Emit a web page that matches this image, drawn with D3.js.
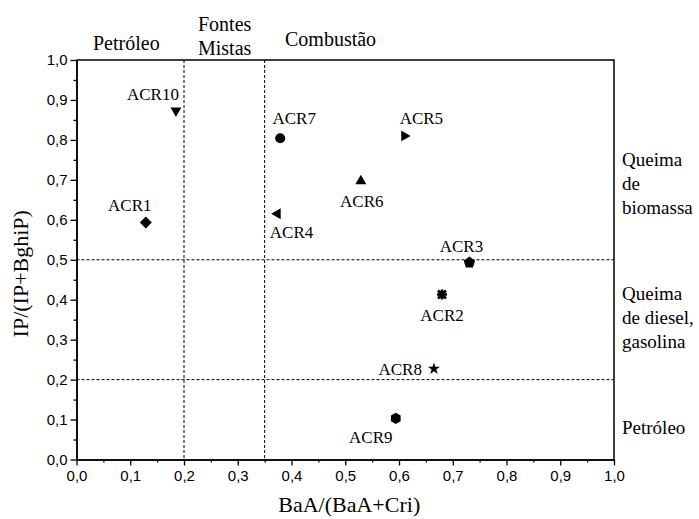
<!DOCTYPE html>
<html>
<head>
<meta charset="utf-8">
<script src="https://cdn.jsdelivr.net/npm/d3@7"></script>
<style>
  html, body { margin: 0; padding: 0; background: #fff; }
  svg { display: block; }
</style>
</head>
<body>
<svg id="chart" width="699" height="519"></svg>
<script>
// Diagnostic ratios per sample
const samples = ["ACR1", "ACR2", "ACR3", "ACR4", "ACR5", "ACR6", "ACR7", "ACR8", "ACR9", "ACR10"];
const baaRatio = [0.129, 0.680, 0.731, 0.374, 0.610, 0.529, 0.379, 0.665, 0.594, 0.185]; // BaA/(BaA+Cri)
const ipRatio  = [0.593, 0.413, 0.493, 0.615, 0.810, 0.697, 0.804, 0.227, 0.103, 0.873]; // IP/(IP+BghiP)
const markerShapes = ["diamond", "asterisk", "pentagon", "triangleLeft", "triangleRight",
                      "triangleUp", "circle", "star", "hexagon", "triangleDown"];

// Source-boundary thresholds
const baaLimits = [0.2, 0.35];
const ipLimits = [0.2, 0.5];

// Tick values
const majorTicks = [0, 0.1, 0.2, 0.3, 0.4, 0.5, 0.6, 0.7, 0.8, 0.9, 1.0];
const minorTicks = [0.05, 0.15, 0.25, 0.35, 0.45, 0.55, 0.65, 0.75, 0.85, 0.95];

// Region labels
const topRegions = [
  { lines: ["Petróleo"], x: 93, y: 50 },
  { lines: ["Fontes", "Mistas"], x: 198, y: 31 },
  { lines: ["Combustão"], x: 285, y: 46 }
];
const sideRegions = [
  { lines: ["Queima", "de", "biomassa"], y: 166 },
  { lines: ["Queima", "de diesel,", "gasolina"], y: 300 },
  { lines: ["Petróleo"], y: 434 }
];

// Label placement relative to each marker: [dx, dy, anchor]
const labelOffsets = [
  [-16, -12, "middle"], [0, 26, "middle"], [-8, -11, "middle"], [14, 24, "middle"],
  [17, -12, "middle"], [1, 26, "middle"], [14, -14, "middle"], [-12, 6, "end"],
  [-25, 25, "middle"], [3, -11, "end"]
];

const SERIF = "Liberation Serif, Times New Roman, Times, serif";
const SANS = "Liberation Sans, Arial, sans-serif";

const margin = { left: 76.5, right: 85, top: 60, bottom: 59.5 };
const W = 699, H = 519;
const svg = d3.select("#chart");
svg.append("rect").attr("width", W).attr("height", H).attr("fill", "#fff");

const x = d3.scaleLinear().domain([0, 1]).range([margin.left, W - margin.right]);
const y = d3.scaleLinear().domain([0, 1]).range([H - margin.bottom, margin.top]);
const fmt = v => d3.format(".1f")(v).replace(".", ",");

// Dashed threshold lines
const g = svg.append("g");
g.selectAll("line.vlim").data(baaLimits).join("line")
  .attr("x1", d => x(d)).attr("x2", d => x(d))
  .attr("y1", y(1)).attr("y2", y(0))
  .attr("stroke", "#000").attr("stroke-width", 1).attr("stroke-dasharray", "3,2");
g.selectAll("line.hlim").data(ipLimits).join("line")
  .attr("x1", x(0)).attr("x2", x(1))
  .attr("y1", d => y(d)).attr("y2", d => y(d))
  .attr("stroke", "#000").attr("stroke-width", 1).attr("stroke-dasharray", "3,2");

// Axes: major ticks with labels, minor ticks without
function styleAxis(sel) {
  sel.attr("font-family", SANS).attr("font-size", 15);
  sel.select(".domain").attr("stroke", "#000").attr("stroke-width", 1.5);
  sel.selectAll(".tick line").attr("stroke", "#000").attr("stroke-width", 1.3);
  sel.selectAll(".tick text").attr("fill", "#000");
}
svg.append("g").attr("transform", `translate(0,${y(0)})`)
  .call(d3.axisBottom(x).tickValues(majorTicks).tickSize(6).tickSizeOuter(0).tickPadding(5).tickFormat(fmt))
  .call(styleAxis);
svg.append("g").attr("transform", `translate(0,${y(0)})`)
  .call(d3.axisBottom(x).tickValues(minorTicks).tickSize(3).tickSizeOuter(0).tickFormat(""))
  .call(styleAxis);
svg.append("g").attr("transform", `translate(${x(0)},0)`)
  .call(d3.axisLeft(y).tickValues(majorTicks).tickSize(6).tickSizeOuter(0).tickPadding(3).tickFormat(fmt))
  .call(styleAxis);
svg.append("g").attr("transform", `translate(${x(0)},0)`)
  .call(d3.axisLeft(y).tickValues(minorTicks).tickSize(3).tickSizeOuter(0).tickFormat(""))
  .call(styleAxis);

// Top and right frame
svg.append("path")
  .attr("d", `M${x(0)},${y(1)}H${x(1)}V${y(0)}`)
  .attr("fill", "none").attr("stroke", "#000").attr("stroke-width", 1.5);

// Marker shapes
function polygon(n, r, rot) {
  const pts = d3.range(n).map(i => {
    const a = rot + i * 2 * Math.PI / n;
    return [r * Math.sin(a), -r * Math.cos(a)];
  });
  return "M" + pts.map(p => p.join(",")).join("L") + "Z";
}
function markerPath(shape) {
  switch (shape) {
    case "diamond": return polygon(4, 6, 0);
    case "circle": return d3.symbol(d3.symbolCircle, 80)();
    case "triangleUp": return polygon(3, 6.3, 0);
    case "triangleDown": return polygon(3, 6.3, Math.PI);
    case "triangleLeft": return polygon(3, 6.3, -Math.PI / 2);
    case "triangleRight": return polygon(3, 6.3, Math.PI / 2);
    case "pentagon": return polygon(5, 6, 0);
    case "hexagon": return polygon(6, 5.6, 0);
    case "star": return d3.symbol(d3.symbolStar, 45)();
    default: return null;
  }
}

const pts = svg.append("g").selectAll("g").data(samples).join("g")
  .attr("transform", (d, i) => `translate(${x(baaRatio[i])},${y(ipRatio[i])})`);
pts.each(function (d, i) {
  const sel = d3.select(this);
  const shape = markerShapes[i];
  if (shape === "asterisk") {
    sel.append("path")
      .attr("d", "M-4,-4L4,4M-4,4L4,-4M0,-5V5M-5,0H5")
      .attr("stroke", "#000").attr("stroke-width", 2.6).attr("fill", "none");
  } else {
    sel.append("path").attr("d", markerPath(shape)).attr("fill", "#000");
  }
});

// Sample labels
svg.append("g").attr("font-family", SERIF).attr("font-size", 17)
  .selectAll("text").data(samples).join("text")
  .attr("x", (d, i) => x(baaRatio[i]) + labelOffsets[i][0])
  .attr("y", (d, i) => y(ipRatio[i]) + labelOffsets[i][1])
  .attr("text-anchor", (d, i) => labelOffsets[i][2])
  .attr("fill", "#000")
  .text(d => d);

// Region labels above the plot
topRegions.forEach(r => {
  const t = svg.append("text").attr("font-family", SERIF).attr("font-size", 20)
    .attr("fill", "#000").attr("x", r.x).attr("y", r.y);
  r.lines.forEach((l, k) => t.append("tspan").attr("x", r.x).attr("dy", k === 0 ? 0 : 24).text(l));
});

// Region labels to the right of the plot
sideRegions.forEach(r => {
  const t = svg.append("text").attr("font-family", SERIF).attr("font-size", 19)
    .attr("fill", "#000").attr("x", x(1) + 8).attr("y", r.y);
  r.lines.forEach((l, k) => t.append("tspan").attr("x", x(1) + 8).attr("dy", k === 0 ? 0 : 24).text(l));
});

// Axis titles
svg.append("text").attr("font-family", SERIF).attr("font-size", 22)
  .attr("fill", "#000").attr("text-anchor", "middle")
  .attr("x", (x(0) + x(1)) / 2 + 4).attr("y", 512)
  .text("BaA/(BaA+Cri)");
svg.append("text").attr("font-family", SERIF).attr("font-size", 22)
  .attr("fill", "#000").attr("text-anchor", "middle")
  .attr("transform", `translate(28,${(y(0) + y(1)) / 2 + 14}) rotate(-90)`)
  .text("IP/(IP+BghiP)");
</script>
</body>
</html>
